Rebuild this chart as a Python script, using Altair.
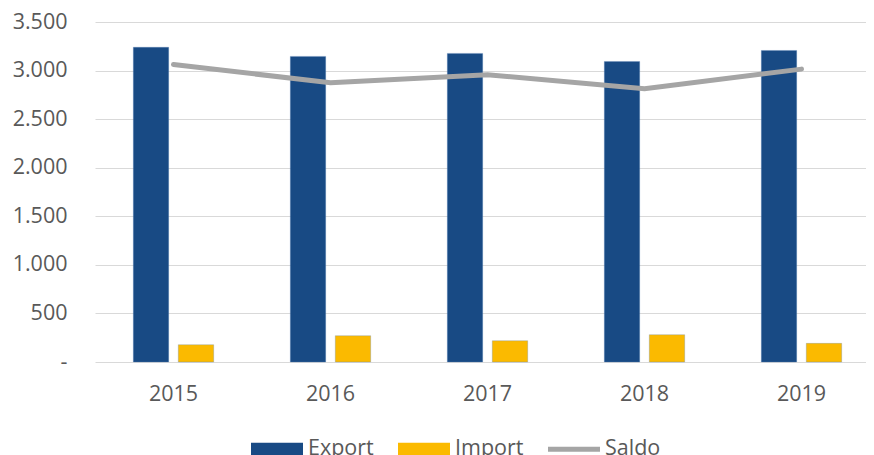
import altair as alt
import pandas as pd

years = ["2015", "2016", "2017", "2018", "2019"]
export_vals = [3240, 3146, 3177, 3094, 3207]
import_vals = [178, 271, 219, 281, 192]
saldo_vals = [3062, 2875, 2958, 2813, 3015]

series = ["Export", "Import", "Saldo"]
colors = ["#184A84", "#FBBA00", "#A5A5A5"]

bars = pd.DataFrame({
    "Year": years * 2,
    "Series": ["Export"] * 5 + ["Import"] * 5,
    "Value": export_vals + import_vals,
})
line = pd.DataFrame({"Year": years, "Series": ["Saldo"] * 5, "Value": saldo_vals})
allrows = pd.concat([bars, line], ignore_index=True)

FONT = "Open Sans"
TXT = "#595959"
FS = 21.5

x = alt.X("Year:N", title=None,
          scale=alt.Scale(paddingInner=0.488, paddingOuter=0.244, range=[0, 785]),
          axis=alt.Axis(labelAngle=0, labelFont=FONT, labelFontSize=FS, labelColor=TXT,
                        labelPadding=21, ticks=False, tickSize=0, domain=False, grid=False))
y = alt.Y("Value:Q", title=None,
          scale=alt.Scale(domain=[0, 3500], nice=False),
          axis=alt.Axis(values=[0, 500, 1000, 1500, 2000, 2500, 3000, 3500],
                        labelExpr="datum.value == 0 ? '-' : replace(format(datum.value, ','), ',', '.')",
                        labelFont=FONT, labelFontSize=FS, labelColor=TXT, labelPadding=28,
                        ticks=False, tickSize=0, domain=False, gridColor="#D9D9D9", gridWidth=1))

rect_path = "M-1,-0.25H1V0.25H-1Z"
line_path = "M-1,-0.1H1V0.1H-1Z"

color_scale = alt.Scale(domain=series, range=colors)
shape_scale = alt.Scale(domain=series, range=[rect_path, rect_path, line_path])

legend = alt.Legend(title=None, orient="none", legendX=156, legendY=401,
                    direction="horizontal", symbolSize=2704, symbolOpacity=1,
                    symbolStrokeWidth=0, labelFont=FONT, labelFontSize=FS,
                    labelColor=TXT, labelOffset=5, columnPadding=24)

bar_layer = alt.Chart(bars).mark_bar(stroke="#5B83B8", strokeWidth=0.6, strokeOpacity=0.5).encode(
    x=x,
    xOffset=alt.XOffset("Series:N", scale=alt.Scale(domain=["Export", "Import"], paddingInner=0.213, paddingOuter=0)),
    y=y,
    color=alt.Color("Series:N", scale=color_scale, legend=legend),
)

line_layer = alt.Chart(line).mark_line(strokeWidth=5, strokeCap="round", color="#A5A5A5").encode(
    x=x,
    y=y,
)

legend_layer = alt.Chart(allrows).mark_point(filled=True, opacity=0).encode(
    x=x,
    y=y,
    color=alt.Color("Series:N", scale=color_scale, legend=legend),
    shape=alt.Shape("Series:N", scale=shape_scale, legend=legend),
)

chart = alt.layer(bar_layer, line_layer, legend_layer).properties(
    width=771, height=340,
    autosize=alt.AutoSizeParams(type="none"),
    padding={"left": 87, "top": 14, "right": 0, "bottom": 116},
).configure_view(stroke=None)

chart.save("out.html", embed_options={"renderer": "svg", "actions": False})
